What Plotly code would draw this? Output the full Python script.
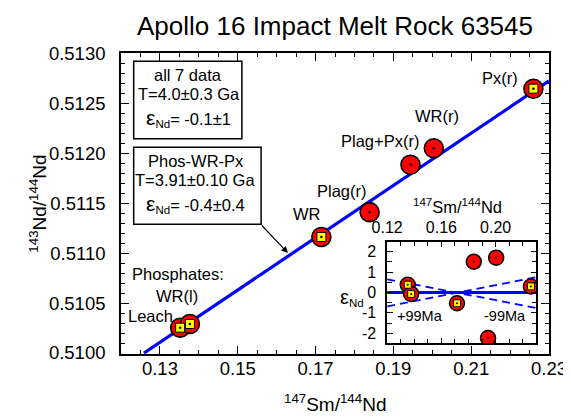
import plotly.graph_objects as go

# ---------------- data ----------------
names = ["Leach", "WR(l)", "WR", "Plag(r)", "Plag+Px(r)", "WR(r)", "Px(r)"]
sm_nd = [0.1352, 0.1377, 0.1715, 0.1839, 0.1944, 0.2004, 0.2260]
nd_nd = [0.510254, 0.510291, 0.511164, 0.511413, 0.511889, 0.512055, 0.512652]
eps_nd = [0.38, -0.07, -0.53, 1.51, -2.24, 1.71, 0.30]
on_isochron = [True, True, True, False, False, False, True]

isochron_x = [0.1259, 0.23]
isochron_y = [0.5100, 0.51273]

env_x = [0.12, 0.23]
env_zero = [0.0, 0.0]
env_plus = [0.65, -0.76]
env_minus = [-0.68, 0.75]

x_tick_vals = [0.13, 0.15, 0.17, 0.19, 0.21, 0.23]
x_tick_text = ["0.13", "0.15", "0.17", "0.19", "0.21", "0.23"]
y_tick_vals = [0.5100, 0.5105, 0.5110, 0.5115, 0.5120, 0.5125, 0.5130]
y_tick_text = ["0.5100", "0.5105", "0.5110", "0.5115", "0.5120", "0.5125", "0.5130"]
ins_x_tick_vals = [0.12, 0.16, 0.20]
ins_x_tick_text = ["0.12", "0.16", "0.20"]
ins_y_tick_vals = [-2, -1, 0, 1, 2]
ins_y_tick_text = ["-2", "-1", "0", "1", "2"]

# ---------------- layout helpers ----------------
W, H = 571, 418
L, R, T, B = 113, 19, 45, 72
PW, PH = W - L - R, H - T - B
FONT = "Liberation Sans, Arial, sans-serif"
BLUE = "#0000FF"


def px(x):
    return (x - L) / PW


def py(y):
    return (H - B - y) / PH


sq_x = [x for x, f in zip(sm_nd, on_isochron) if f]
sq_y = [y for y, f in zip(nd_nd, on_isochron) if f]
sq_e = [e for e, f in zip(eps_nd, on_isochron) if f]

fig = go.Figure()

# main isochron
fig.add_trace(go.Scatter(x=isochron_x, y=isochron_y, mode="lines",
                         line=dict(color=BLUE, width=3.2), xaxis="x", yaxis="y"))
fig.add_trace(go.Scatter(x=sm_nd, y=nd_nd, mode="markers", xaxis="x", yaxis="y",
                         marker=dict(symbol="circle", size=19, color="#FF0000",
                                     line=dict(color="black", width=1.6))))
fig.add_trace(go.Scatter(x=sq_x, y=sq_y, mode="markers", xaxis="x", yaxis="y",
                         marker=dict(symbol="square", size=9, color="#FFFF00",
                                     line=dict(color="black", width=1))))
fig.add_trace(go.Scatter(x=sm_nd, y=nd_nd, mode="markers", xaxis="x", yaxis="y",
                         marker=dict(symbol="circle", size=2.5, color="black")))

# inset
fig.add_trace(go.Scatter(x=env_x, y=env_zero, mode="lines", xaxis="x2", yaxis="y2",
                         line=dict(color=BLUE, width=3.2)))
fig.add_trace(go.Scatter(x=env_x, y=env_plus, mode="lines", xaxis="x2", yaxis="y2",
                         line=dict(color=BLUE, width=1.8, dash="8px,5px")))
fig.add_trace(go.Scatter(x=env_x, y=env_minus, mode="lines", xaxis="x2", yaxis="y2",
                         line=dict(color=BLUE, width=1.8, dash="8px,5px")))
fig.add_trace(go.Scatter(x=sm_nd, y=eps_nd, mode="markers", xaxis="x2", yaxis="y2",
                         marker=dict(symbol="circle", size=15, color="#FF0000",
                                     line=dict(color="black", width=1.5))))
fig.add_trace(go.Scatter(x=sq_x, y=sq_e, mode="markers", xaxis="x2", yaxis="y2",
                         marker=dict(symbol="square", size=7, color="#FFFF00",
                                     line=dict(color="black", width=1))))
fig.add_trace(go.Scatter(x=sm_nd, y=eps_nd, mode="markers", xaxis="x2", yaxis="y2",
                         marker=dict(symbol="circle", size=2, color="black")))

axis_common = dict(showline=True, linecolor="black", linewidth=1.6, mirror="ticks",
                   ticks="inside", tickcolor="black", tickwidth=1.3,
                   showgrid=False, zeroline=False)

minor_x = [round(0.12 + 0.005 * i, 4) for i in range(23)]
minor_y = [round(0.5100 + 0.0001 * i, 4) for i in range(31)]
minor_x2 = [round(0.12 + 0.01 * i, 3) for i in range(12)]
minor_y2 = [-2.5 + 0.5 * i for i in range(11)]

fig.update_layout(
    width=W, height=H, margin=dict(l=L, r=R, t=T, b=B),
    paper_bgcolor="white", plot_bgcolor="white", showlegend=False,
    font=dict(family=FONT, color="black", size=17),
    xaxis=dict(domain=[0, 1], range=[0.11999, 0.23001], anchor="y",
               tickmode="array", tickvals=x_tick_vals, ticktext=x_tick_text,
               ticklen=8, tickfont=dict(size=18.5), ticklabelstandoff=-3,
               minor=dict(tickvals=minor_x, ticks="inside", ticklen=4,
                          tickcolor="black", tickwidth=1.2),
               **axis_common),
    yaxis=dict(domain=[0, 1], range=[0.50999, 0.51301], anchor="x",
               tickmode="array", tickvals=y_tick_vals, ticktext=y_tick_text,
               ticklen=8, tickfont=dict(size=18.5), ticklabelstandoff=10,
               minor=dict(tickvals=minor_y, ticks="inside", ticklen=4,
                          tickcolor="black", tickwidth=1.2),
               **axis_common),
    xaxis2=dict(domain=[px(386), px(539)], range=[0.12, 0.23], anchor="y2", side="top",
                tickmode="array", tickvals=ins_x_tick_vals, ticktext=ins_x_tick_text,
                ticklen=6, tickfont=dict(size=16), ticklabelstandoff=0,
                minor=dict(tickvals=minor_x2, ticks="inside", ticklen=5,
                           tickcolor="black", tickwidth=1.2),
                **axis_common),
    yaxis2=dict(domain=[py(335.4), py(233.6)], range=[-2.5, 2.5], anchor="x2",
                tickmode="array", tickvals=ins_y_tick_vals, ticktext=ins_y_tick_text,
                ticklen=6, tickfont=dict(size=16), ticklabelstandoff=6,
                minor=dict(tickvals=minor_y2, ticks="inside", ticklen=5,
                           tickcolor="black", tickwidth=1.2),
                **axis_common),
)

ann = []


def text(x, y, s, size=16.5, **kw):
    d = dict(x=px(x), y=py(y), xref="paper", yref="paper", text=s, showarrow=False,
             xanchor="center", yanchor="middle", font=dict(family=FONT, size=size, color="black"))
    d.update(kw)
    ann.append(d)


# title and axis titles
text(332.5, 18, "Apollo 16 Impact Melt Rock 63545", size=26)
text(333, 395, "<sup>147</sup>Sm/<sup>144</sup>Nd", size=19)
text(27, 195.5, "<sup>143</sup>Nd/<sup>144</sup>Nd", size=19, textangle=-90)

# point labels
text(501.7, 70, "Px(r)")
text(436.7, 108.3, "WR(r)")
text(379, 132.7, "Plag+Px(r)")
text(340, 182.5, "Plag(r)")
text(303.5, 206.3, "WR")
text(171, 266.3, "Phosphates:")
text(170, 288.3, "WR(l)")
text(143.3, 307.7, "Leach")

# boxes
EPS = "<span style='font-size:21px'>ε</span><sub>Nd</sub>"
text(182, 66.7, "all 7 data")
text(183, 86, "T=4.0±0.3 Ga")
text(182, 110, EPS + "= -0.1±1")
text(190, 153.3, "Phos-WR-Px")
text(189, 171.7, "T=3.91±0.10 Ga")
text(189, 196, EPS + "= -0.4±0.4")

# inset texts
text(458.5, 198, "<sup>147</sup>Sm/<sup>144</sup>Nd", size=16.5)
text(350, 289, "<span style='font-size:20px'>ε</span><sub>Nd</sub>", size=16.5)
text(420, 308.3, "+99Ma", size=14.5)
text(506.7, 308.3, "-99Ma", size=14.5)

# arrow
ann.append(dict(x=px(284.3), y=py(245), xref="paper", yref="paper",
                ax=256.7 - 284.3, ay=216 - 245, axref="pixel", ayref="pixel",
                showarrow=True, arrowhead=2, arrowsize=1.2, arrowwidth=1.1,
                arrowcolor="black", text=""))

shapes = []
for (x0, y0, x1, y1) in [(126, 53.3, 237, 130.7), (126, 139.3, 256.7, 216.3)]:
    shapes.append(dict(type="rect", xref="paper", yref="paper",
                       x0=px(x0), x1=px(x1), y0=py(y1), y1=py(y0),
                       line=dict(color="black", width=1.5), fillcolor="white",
                       layer="below"))

fig.update_layout(annotations=ann, shapes=shapes)
fig.write_html("out.html")
